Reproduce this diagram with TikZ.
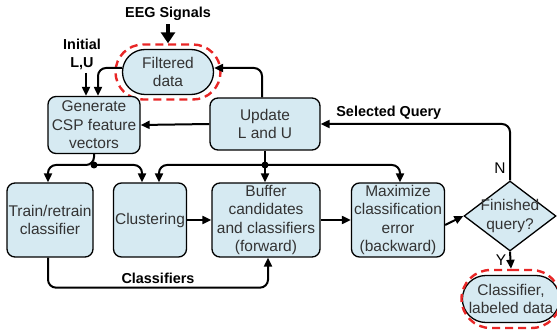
\documentclass[tikz,border=0pt]{standalone}
\usepackage{fontspec}
\setmainfont{Liberation Sans}
\usetikzlibrary{positioning,calc,arrows.meta,shapes.geometric,shapes.misc}
\definecolor{boxblue}{RGB}{214,234,242}
\definecolor{hired}{RGB}{232,38,38}

\begin{document}
\begin{tikzpicture}[x=1pt,y=-1pt,
  every node/.style={font=\fontsize{15.5}{18.5}\selectfont,text=black!80},
  blk/.style={draw,line width=1.3pt,fill=boxblue,rounded corners=8pt,
              align=center,inner sep=1pt},
  pill/.style={draw,line width=1.3pt,fill=boxblue,rounded rectangle,
               align=center,inner sep=1pt},
  hilite/.style={draw=hired,line width=2.4pt,dash pattern=on 8pt off 5pt,
                 rounded rectangle,inner sep=0pt},
  arr/.style={line width=2pt,-{Triangle[length=9pt,width=8pt]},rounded corners=8pt},
  tag/.style={font=\fontsize{14.4}{18}\selectfont\bfseries,text=black}]
\useasboundingbox (0,0) rectangle (557,331);
% Top part: input and filtered data
\node[tag] (eeg) at (168,14) {EEG Signals};
\node[pill,minimum width=93pt,minimum height=45pt] (filt) at (168,72) {Filtered\\data};
\node[hilite,minimum width=105pt,minimum height=55pt] (filtred) at (filt.center) {};
\node[tag,align=center] (init) at (82,54) {Initial\\L,U};
% Upper row
\node[blk,minimum width=92pt,minimum height=57pt] (gen) at (94,125) {Generate\\CSP feature\\vectors};
\node[blk,minimum width=110pt,minimum height=52pt] (upd) at (265,124) {Update\\L and U};
% Lower row
\node[blk,minimum width=86pt,minimum height=74pt] (train) at (50,220) {Train/retrain\\classifier};
\node[blk,minimum width=73pt,minimum height=74pt] (clus) at (150,220) {Clustering};
\node[blk,minimum width=108pt,minimum height=74pt] (buf) at (266,220) {Buffer\\candidates\\and classifiers\\(forward)};
\node[blk,minimum width=93pt,minimum height=74pt] (maxe) at (398,220) {Maximize\\classification\\error\\(backward)};
\node[draw,line width=1.3pt,fill=boxblue,diamond,align=center,inner sep=-12pt,
      minimum width=92pt,minimum height=70pt] (fin) at (510,216) {Finished\\query?};
\node[pill,minimum width=88pt,minimum height=47pt] (out) at (511,299) {Classifier,\\labeled data};
\node[hilite,minimum width=99pt,minimum height=58pt] (outred) at (out.center) {};
% Branch points
\coordinate (gendot) at (94,165);
\coordinate (upddot) at (265,165);
% Connectors of the top part
\draw[line width=4pt,-{Triangle[length=11pt,width=14pt]}] (eeg.south) -- (filtred.north);
\draw[arr] ([xshift=4pt]init.south) -- ([xshift=4pt]init.south |- gen.north);
\draw[arr] ([yshift=4pt]filt.west) -| ([xshift=4pt]gen.north);
\draw[arr] ([xshift=-3pt]upd.north) |- ([yshift=4pt]filt.east);
\draw[arr] (upd.west) -- (gen.east);
\draw[arr] (fin.north) |- node[pos=0.82,above,tag] {Selected Query}
      node[pos=0.11,left,text=black] {N} (upd.east);
% Branches down to the lower row
\draw[arr] (gen.south) -- (gendot) -| ([xshift=-2pt]train.north);
\draw[arr] (gendot) -| ([xshift=-8pt]clus.north);
\draw[arr] (upd.south) -- (buf.north -| upd.south);
\draw[arr] (upddot) -| ([xshift=9pt]clus.north);
\draw[arr] (upddot) -| ([xshift=2pt]maxe.north);
\fill (gendot) circle (3.5pt) (upddot) circle (3.5pt);
% Lower row connectors
\draw[arr] (clus.east) -- (buf.west);
\draw[arr] (buf.east) -- (maxe.west);
\draw[arr] ([yshift=-5pt]maxe.east) -- (fin.west);
\draw[arr] (fin.south) -- node[left,text=black] {Y} (outred.north);
\draw[arr] ([xshift=-2pt]train.south) -- ++(0,30) -| node[pos=0.25,above,tag] {Classifiers}
      ([xshift=2pt]buf.south);
\end{tikzpicture}
\end{document}
